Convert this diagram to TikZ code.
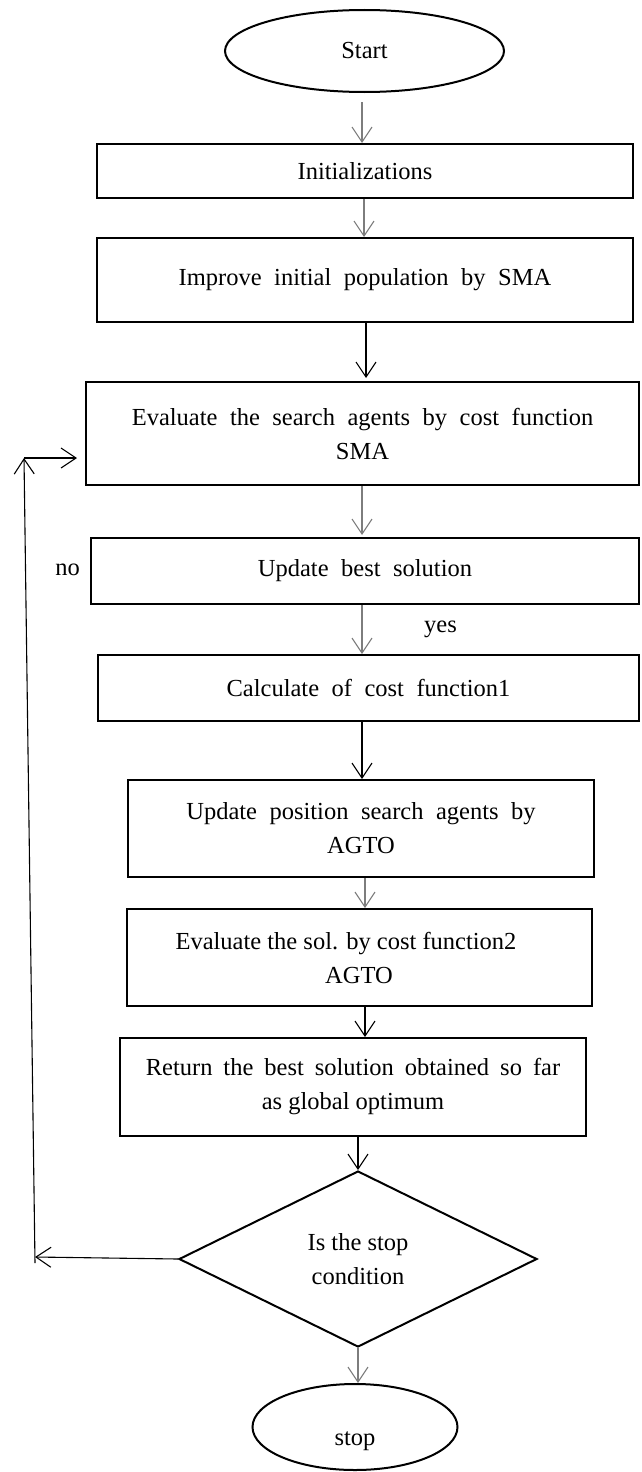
\documentclass[tikz,border=0pt]{standalone}
\usepackage{fontspec}
\setmainfont{Liberation Serif}
\usetikzlibrary{shapes.geometric,arrows.meta}
\definecolor{arrgray}{RGB}{125,125,125}
\begin{document}
\begin{tikzpicture}[x=1pt,y=-1pt,
  txt/.style={font={\fontsize{24.5}{34}\selectfont}},
  wide/.style={font={\fontsize{24.5}{34}\selectfont\spaceskip=12.5pt plus 2pt\relax}},
  box/.style={draw,line width=2pt,rectangle,inner sep=0pt,align=center,txt},
  term/.style={draw,line width=2pt,ellipse,inner sep=0pt,txt},
  garr/.style={draw=arrgray,line width=1.1pt,-{Straight Barb[length=15pt,width=20pt]}},
  barr/.style={draw=black,line width=1.1pt,-{Straight Barb[length=15pt,width=20pt]}},
]
\useasboundingbox (0,0) rectangle (641,1472);

\node[term,minimum width=279pt,minimum height=82pt] (start) at (364.5,51) {Start};
\node[box,minimum width=536pt,minimum height=54pt] (init) at (365,171) {Initializations};
\node[box,wide,minimum width=536pt,minimum height=84pt] (improve) at (365,280) {Improve initial population by SMA};
\node[box,wide,minimum width=553pt,minimum height=103pt] (eval) at (362.5,433.5) {Evaluate the search agents by cost function\\SMA};
\node[box,wide,minimum width=548pt,minimum height=66pt] (upd) at (365,571) {Update best solution};
\node[box,wide,minimum width=541pt,minimum height=66pt] (calc) at (368.5,688) {Calculate of cost function1};
\node[box,wide,minimum width=466pt,minimum height=97pt] (updpos) at (361,828.5) {Update position search agents by\\AGTO};
\node[box,minimum width=465pt,minimum height=97pt] (evalsol) at (359,957.5) {Evaluate the sol. by cost function2\hspace*{26pt}\\AGTO};
\node[box,minimum width=466pt,minimum height=98pt] (ret) at (353,1087) {{\spaceskip=11pt plus 2pt\relax Return the best solution obtained so far}\\as global optimum};
\node[draw,line width=2pt,diamond,inner sep=0pt,minimum width=358pt,minimum height=176pt,align=center,txt] (dec) at (358,1259) {Is the stop\\condition};
\node[term,minimum width=205pt,minimum height=86pt] (stop) at (355,1427) {\raisebox{-18pt}[0pt][0pt]{stop}};

\node[txt,inner sep=0pt] (no) at (67.5,570) {no};
\node[txt,inner sep=0pt] (yes) at (440.5,629) {yes};

\draw[garr,shorten <=9pt] ([xshift=-2.5pt]start.south) -- ([xshift=-3pt]init.north);
\draw[garr] ([xshift=-1pt]init.south) -- ([xshift=-1pt]improve.north);
\draw[barr,shorten >=3pt] ([xshift=1pt]improve.south) -- ([xshift=3.5pt]eval.north);
\draw[garr,shorten >=2pt] ([xshift=-0.5pt]eval.south) -- ([xshift=-3pt]upd.north);
\draw[garr] ([xshift=-3pt]upd.south) -- ([xshift=-6.5pt]calc.north);
\draw[barr] ([xshift=-6.5pt]calc.south) -- ([xshift=1pt]updpos.north);
\draw[garr] ([xshift=4pt]updpos.south) -- ([xshift=6pt]evalsol.north);
\draw[barr] ([xshift=6pt]evalsol.south) -- ([xshift=12pt]ret.north);
\draw[barr] ([xshift=5pt]ret.south) -- (dec.north);
\draw[garr] (dec.south) -- ([xshift=3pt]stop.north);

\coordinate (fbL) at (35,1257);
\coordinate (fbB) at (35,1263);
\coordinate (fbT) at (24,458);
\draw[barr] (dec.west) -- (fbL);
\draw[barr] (fbB) -- (fbT);
\draw[barr,shorten >=8pt] (fbT) -- (fbT -| eval.west);
\end{tikzpicture}
\end{document}
